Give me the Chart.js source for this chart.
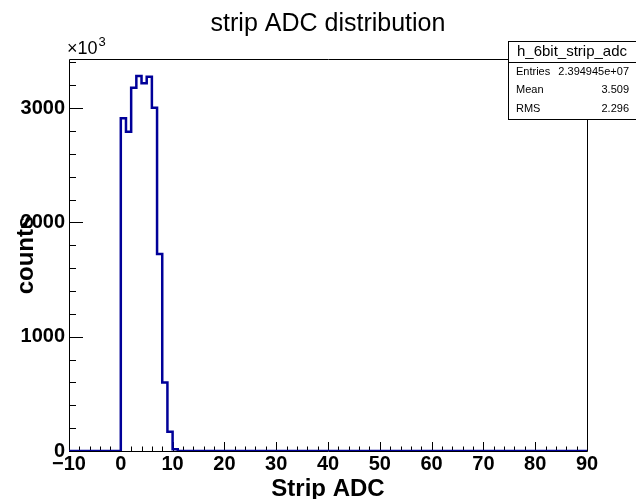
<!DOCTYPE html>
<html>
<head>
<meta charset="utf-8">
<script src="https://cdn.jsdelivr.net/npm/chart.js@4.4.0/dist/chart.umd.min.js"></script>
<style>
  html, body { margin: 0; padding: 0; background: #fff; }
  #wrap { width: 636px; height: 499px; }
</style>
</head>
<body>
<div id="wrap"><canvas id="histChart" width="636" height="499"></canvas></div>
<script>
// h_6bit_strip_adc contents, 1 ADC per bin, counts in units of 10^3
const binLow = [0, 1, 2, 3, 4, 5, 6, 7, 8, 9, 10];
const binCounts = [2911, 2794, 3179, 3281, 3217, 3275, 3004, 1724, 600, 169, 15];
const xRange = [-10, 90];
const yMax = 3430;
const xMajor = [-10, 0, 10, 20, 30, 40, 50, 60, 70, 80, 90];
const yMajor = [0, 1000, 2000, 3000];
const titleText = 'strip ADC distribution';
const statsName = 'h_6bit_strip_adc';
const statsLabels = ['Entries', 'Mean', 'RMS'];
const statsValues = ['2.394945e+07', '3.509', '2.296'];

const FONT = 'Liberation Sans, Arial, Helvetica, sans-serif';

// histogram outline: empty from the low edge, one point per bin low edge, back to zero after last bin
const points = [{ x: xRange[0], y: 0 }];
binLow.forEach((lo, i) => points.push({ x: lo, y: binCounts[i] }));
points.push({ x: binLow[binLow.length - 1] + 1, y: 0 });
points.push({ x: xRange[1], y: 0 });

// ROOT-style frame with inward ticks, title, exponent and stats box
const frameTicks = {
    id: 'frameTicks',
    beforeDatasetsDraw(chart) {
        const { ctx, chartArea: a, scales: { x, y } } = chart;
        ctx.save();
        ctx.strokeStyle = '#000';
        ctx.lineWidth = 1;
        ctx.beginPath();
        ctx.rect(Math.round(a.left) + 0.5, Math.round(a.top) + 0.5,
                 Math.round(a.right - a.left), Math.round(a.bottom - a.top));
        // x ticks: major every 10, minor every 2
        for (let v = xRange[0]; v <= xRange[1]; v += 2) {
            const px = Math.round(x.getPixelForValue(v)) + 0.5;
            const len = xMajor.includes(v) ? 9 : 4.5;
            ctx.moveTo(px, a.bottom);
            ctx.lineTo(px, a.bottom - len);
        }
        // y ticks: major every 1000, minor every 200
        for (let v = 0; v <= yMax; v += 200) {
            const py = Math.round(y.getPixelForValue(v)) + 0.5;
            const len = yMajor.includes(v) ? 14 : 7;
            ctx.moveTo(a.left, py);
            ctx.lineTo(a.left + len, py);
        }
        ctx.stroke();
        ctx.restore();
    },
    afterDraw(chart) {
        const { ctx, chartArea: a } = chart;
        ctx.save();
        ctx.fillStyle = '#000';

        // title, centred on the frame
        ctx.textBaseline = 'middle';
        ctx.textAlign = 'center';
        ctx.font = '25px ' + FONT;
        ctx.fillText(titleText, (a.left + a.right) / 2, 24);

        // exponent label
        ctx.textBaseline = 'alphabetic';
        ctx.textAlign = 'left';
        ctx.font = '18px ' + FONT;
        ctx.fillText('\u00d710', 67, 54);
        const w = ctx.measureText('\u00d710').width;
        ctx.font = '13px ' + FONT;
        ctx.fillText('3', 67 + w + 1, 46);

        // stats box
        ctx.fillStyle = '#fff';
        ctx.fillRect(508, 41, 140, 78);
        ctx.strokeStyle = '#000';
        ctx.lineWidth = 1;
        ctx.strokeRect(508.5, 41.5, 140, 78);
        ctx.beginPath();
        ctx.moveTo(508, 62.5);
        ctx.lineTo(636, 62.5);
        ctx.stroke();
        ctx.fillStyle = '#000';
        ctx.textBaseline = 'middle';
        ctx.textAlign = 'center';
        ctx.font = '15px ' + FONT;
        ctx.fillText(statsName, 572, 52);
        ctx.font = '11px ' + FONT;
        const rowY = [71.5, 90, 109];
        statsLabels.forEach((lab, i) => {
            ctx.textAlign = 'left';
            ctx.fillText(lab, 516, rowY[i]);
            ctx.textAlign = 'right';
            ctx.fillText(statsValues[i], 629, rowY[i]);
        });
        ctx.restore();
    }
};

new Chart(document.getElementById('histChart'), {
    type: 'line',
    data: {
        datasets: [{
            data: points,
            stepped: true,
            borderColor: '#000099',
            borderWidth: 2.5,
            pointRadius: 0,
            fill: false
        }]
    },
    options: {
        responsive: false,
        animation: false,
        layout: { padding: { top: 59, right: 49, bottom: 0, left: 0 } },
        plugins: {
            legend: { display: false },
            tooltip: { enabled: false },
            title: { display: false }
        },
        scales: {
            x: {
                type: 'linear',
                min: xRange[0],
                max: xRange[1],
                grid: { display: false, drawTicks: false },
                border: { display: false },
                ticks: {
                    padding: 1,
                    maxRotation: 0,
                    autoSkip: false,
                    color: '#000',
                    font: { family: FONT, size: 20, weight: 'bold' },
                    callback: v => v < 0 ? '\u2212' + Math.abs(v) : String(v)
                },
                afterBuildTicks: s => { s.ticks = xMajor.map(v => ({ value: v })); },
                title: {
                    display: true,
                    text: 'Strip ADC',
                    color: '#000',
                    font: { family: FONT, size: 24, weight: 'bold', lineHeight: 1.2 },
                    padding: { top: 0, bottom: -5 }
                },
                afterFit: s => { s.height = 48; }
            },
            y: {
                min: 0,
                max: yMax,
                grid: { display: false, drawTicks: false },
                border: { display: false },
                ticks: {
                    padding: 4,
                    autoSkip: false,
                    color: '#000',
                    font: { family: FONT, size: 20, weight: 'bold' },
                    callback: v => String(v)
                },
                afterBuildTicks: s => { s.ticks = yMajor.map(v => ({ value: v })); },
                title: {
                    display: true,
                    text: 'counts',
                    color: '#000',
                    font: { family: FONT, size: 24, weight: 'bold', lineHeight: 1.2 },
                    padding: { top: 12, bottom: 0 }
                },
                afterFit: s => { s.width = 69; }
            }
        }
    },
    plugins: [frameTicks]
});
</script>
</body>
</html>
